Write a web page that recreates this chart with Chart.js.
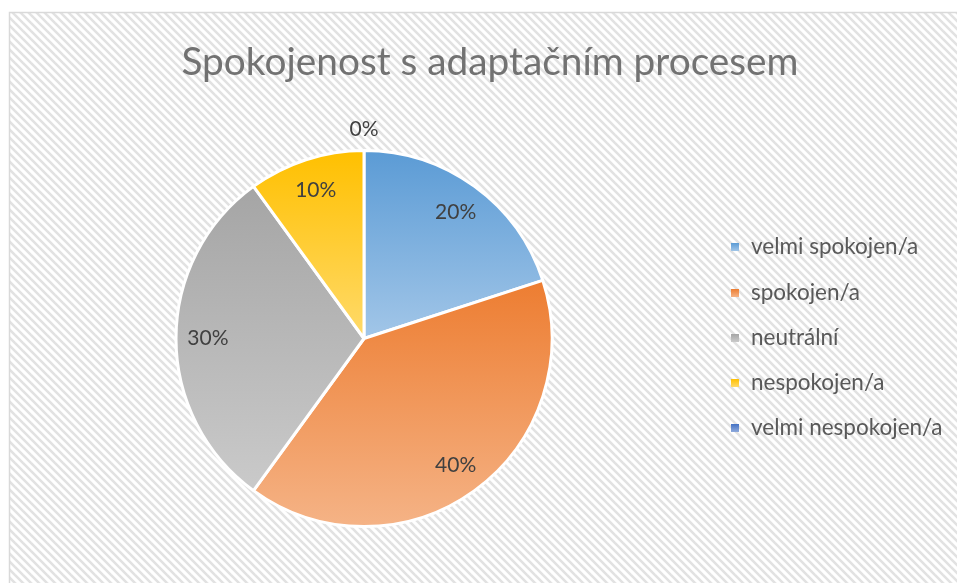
<!DOCTYPE html>
<html>
<head>
<meta charset="utf-8">
<script src="https://cdn.jsdelivr.net/npm/chart.js@4.4.1/dist/chart.umd.min.js"></script>
<style>
  html, body { margin: 0; padding: 0; background: #ffffff; }
  #c { display: block; }
</style>
</head>
<body>
<canvas id="c" width="957" height="583"></canvas>
<script>
// ---- data ----
const chartTitle = 'Spokojenost s adaptačním procesem';
const categories = ['velmi spokojen/a', 'spokojen/a', 'neutrální', 'nespokojen/a', 'velmi nespokojen/a'];
const values = [20, 40, 30, 10, 0];
const valueLabels = ['20%', '40%', '30%', '10%', '0%'];

// ---- styles ----
const baseColors  = ['#5b9bd5', '#ed7d31', '#a5a5a5', '#ffc000', '#4472c4'];
const lightColors = ['#a2c6e8', '#f5b386', '#cacaca', '#ffda6a', '#8faadc'];
const FONT = 'Lato, "Open Sans", sans-serif';

function sliceGradient(ctx) {
  const chart = ctx.chart;
  const i = ctx.dataIndex;
  const area = chart.chartArea;
  if (!area) return baseColors[i];
  const cx = (area.left + area.right) / 2;
  const cy = (area.top + area.bottom) / 2;
  const r = (Math.min(area.right - area.left, area.bottom - area.top) - 3) / 2;
  const data = ctx.dataset.data;
  const total = data.reduce((a, b) => a + b, 0);
  let cum = 0;
  for (let k = 0; k < i; k++) cum += data[k];
  const a0 = -Math.PI / 2 + cum / total * Math.PI * 2;
  const a1 = a0 + data[i] / total * Math.PI * 2;
  let ys = [cy, cy + r * Math.sin(a0), cy + r * Math.sin(a1)];
  const inRange = (a) => {
    for (let t = a - 4 * Math.PI; t <= a + 4 * Math.PI; t += 2 * Math.PI) {
      if (t >= a0 && t <= a1) return true;
    }
    return false;
  };
  if (inRange(Math.PI / 2)) ys.push(cy + r);
  if (inRange(-Math.PI / 2)) ys.push(cy - r);
  const top = Math.min(...ys), bot = Math.max(...ys);
  if (bot - top < 1) return baseColors[i];
  const g = chart.ctx.createLinearGradient(0, top, 0, bot);
  g.addColorStop(0, baseColors[i]);
  g.addColorStop(1, lightColors[i]);
  return g;
}

const backgroundPlugin = {
  id: 'bgHatch',
  beforeDraw(chart) {
    const ctx = chart.ctx;
    ctx.save();
    ctx.fillStyle = '#ffffff';
    ctx.fillRect(0, 0, chart.width, chart.height);
    const S = 8;
    const tile = document.createElement('canvas');
    tile.width = S; tile.height = S;
    const t = tile.getContext('2d');
    t.fillStyle = '#ffffff';
    t.fillRect(0, 0, S, S);
    t.strokeStyle = '#e2e2e2';
    t.lineWidth = 2.6;
    for (let k = -S; k <= S; k += S) {
      t.beginPath();
      t.moveTo(k - 1, -1);
      t.lineTo(k + S + 1, S + 1);
      t.stroke();
    }
    ctx.fillStyle = ctx.createPattern(tile, 'repeat');
    ctx.fillRect(10, 13, chart.width - 10, chart.height - 13);
    ctx.strokeStyle = '#d9d9d9';
    ctx.lineWidth = 1.5;
    ctx.strokeRect(9.5, 12.5, chart.width + 10, chart.height + 10);
    ctx.restore();
  }
};

const textPlugin = {
  id: 'texts',
  afterDatasetsDraw(chart) {
    const ctx = chart.ctx;
    const meta = chart.getDatasetMeta(0);
    ctx.save();
    // data labels
    ctx.font = '21px ' + FONT;
    ctx.fillStyle = '#404040';
    ctx.textAlign = 'center';
    ctx.textBaseline = 'middle';
    meta.data.forEach((arc, i) => {
      const p = arc.getProps(['x', 'y', 'startAngle', 'endAngle', 'outerRadius'], true);
      const mid = (p.startAngle + p.endAngle) / 2;
      const d = values[i] === 0 ? p.outerRadius + 21 : p.outerRadius * 0.83;
      ctx.fillText(valueLabels[i], p.x + Math.cos(mid) * d, p.y + Math.sin(mid) * d);
    });
    // title
    ctx.font = '38.8px ' + FONT;
    ctx.fillStyle = '#727272';
    ctx.fillText(chartTitle, 490, 62);
    // legend
    ctx.font = '22.5px ' + FONT;
    ctx.textAlign = 'left';
    const ys = [247, 293, 338, 383, 428];
    categories.forEach((c, i) => {
      const y = ys[i];
      const g = ctx.createLinearGradient(0, y - 4, 0, y + 4);
      g.addColorStop(0, baseColors[i]);
      g.addColorStop(1, lightColors[i]);
      ctx.fillStyle = g;
      ctx.fillRect(731, y - 4, 8, 8);
      ctx.fillStyle = '#595959';
      ctx.fillText(c, 751, y);
    });
    ctx.restore();
  }
};

new Chart(document.getElementById('c'), {
  type: 'pie',
  data: {
    labels: categories,
    datasets: [{
      data: values,
      backgroundColor: sliceGradient,
      borderColor: '#ffffff',
      borderWidth: 3
    }]
  },
  options: {
    responsive: false,
    devicePixelRatio: 1,
    animation: false,
    layout: { padding: { left: 174.5, right: 403.5, top: 149, bottom: 55 } },
    plugins: {
      legend: { display: false },
      title: { display: false },
      tooltip: { enabled: false }
    }
  },
  plugins: [backgroundPlugin, textPlugin]
});
</script>
</body>
</html>
